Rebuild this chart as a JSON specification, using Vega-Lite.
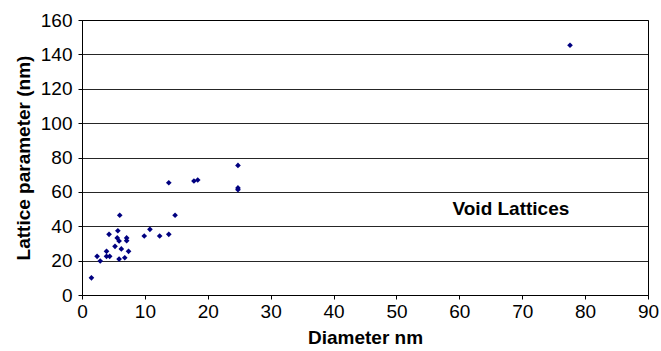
{
  "$schema": "https://vega.github.io/schema/vega-lite/v6.json",
  "autosize": {"type": "none"},
  "padding": {"left": 82, "top": 20, "right": 13, "bottom": 56},
  "width": 566,
  "height": 275,
  "background": "white",
  "config": {
    "view": {"stroke": "#000000", "strokeWidth": 1},
    "font": "Liberation Sans"
  },
  "datasets": {
    "pts": [
      {"d": 1.5, "a": 10},
      {"d": 2.4, "a": 22.5},
      {"d": 2.9, "a": 19.8},
      {"d": 3.9, "a": 22.5},
      {"d": 3.9, "a": 25.4},
      {"d": 4.4, "a": 22.5},
      {"d": 4.3, "a": 35.3},
      {"d": 5.25, "a": 28.3},
      {"d": 5.7, "a": 37.4},
      {"d": 5.6, "a": 33.2},
      {"d": 5.9, "a": 31.4},
      {"d": 6.0, "a": 46.4},
      {"d": 6.25, "a": 26.8},
      {"d": 5.9, "a": 20.9},
      {"d": 6.8, "a": 21.7},
      {"d": 7.1, "a": 33.2},
      {"d": 7.1, "a": 31.6},
      {"d": 7.4, "a": 25.4},
      {"d": 9.9, "a": 34.3},
      {"d": 10.8, "a": 38.2},
      {"d": 12.35, "a": 34.3},
      {"d": 13.8, "a": 35.3},
      {"d": 13.8, "a": 65.3},
      {"d": 14.8, "a": 46.4},
      {"d": 17.8, "a": 66.3},
      {"d": 18.4, "a": 66.9},
      {"d": 24.8, "a": 75.4},
      {"d": 24.8, "a": 62.3},
      {"d": 24.8, "a": 61.3},
      {"d": 77.6, "a": 145.3}
    ],
    "lbl": [{"d": 68.2, "a": 50, "t": "Void Lattices"}]
  },
  "encoding": {
    "x": {
      "field": "d", "type": "quantitative",
      "scale": {"domain": [0, 90], "nice": false, "zero": true},
      "axis": {
        "title": "Diameter nm", "values": [0,10,20,30,40,50,60,70,80,90],
        "grid": false, "domainColor": "#000", "tickColor": "#000", "tickSize": 4,
        "labelOverlap": false, "labelFlush": false,
        "labelFontSize": 19, "labelColor": "#000", "labelPadding": 3,
        "titleFontSize": 19, "titleFontWeight": "bold", "titleColor": "#000", "titlePadding": 7
      }
    },
    "y": {
      "field": "a", "type": "quantitative",
      "scale": {"domain": [0, 160], "nice": false},
      "axis": {
        "title": "Lattice parameter (nm)", "values": [0,20,40,60,80,100,120,140,160],
        "grid": true, "gridColor": "#000", "gridWidth": 1, "gridOpacity": 0.85,
        "labelOverlap": false, "labelFlush": false,
        "domainColor": "#000", "tickColor": "#000", "tickSize": 4,
        "labelFontSize": 19, "labelColor": "#000", "labelPadding": 6,
        "titleFontSize": 19, "titleFontWeight": "bold", "titleColor": "#000", "titlePadding": 7
      }
    }
  },
  "layer": [
    {
      "data": {"name": "pts"},
      "mark": {"type": "point", "shape": "diamond", "filled": true, "color": "#000080", "size": 32, "opacity": 1}
    },
    {
      "data": {"name": "lbl"},
      "mark": {"type": "text", "fontSize": 19, "fontWeight": "bold", "color": "#000", "align": "center", "baseline": "middle"},
      "encoding": {
        "text": {"field": "t"}
      }
    }
  ]
}
